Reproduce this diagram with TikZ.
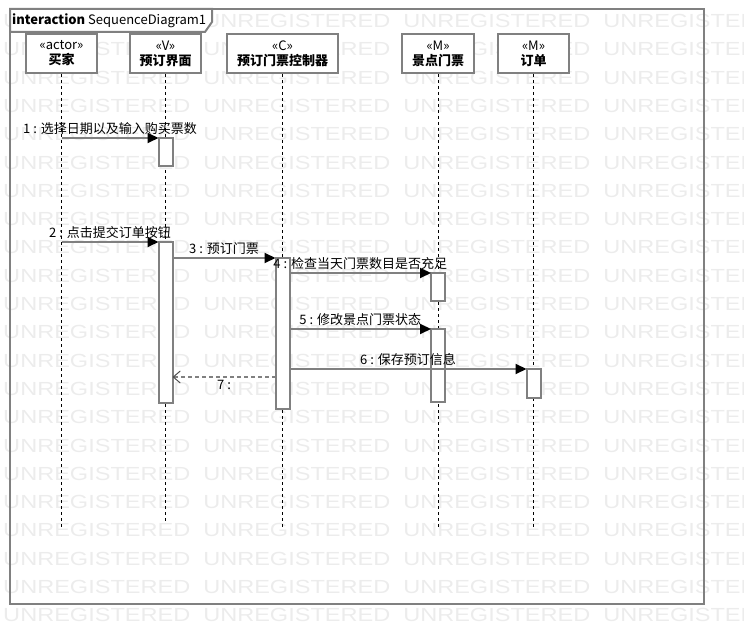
\documentclass[tikz,border=0pt]{standalone}
\usepackage{fontspec}
\setmainfont{Noto Sans CJK SC}
\newfontfamily\wmfont{Liberation Sans}
\usepackage{tikz}
\usetikzlibrary{arrows.meta, positioning}
\definecolor{lngray}{RGB}{128,128,128}
\definecolor{wmgray}{RGB}{236,236,236}

\begin{document}
\begin{tikzpicture}[
    x=1pt, y=-1pt,
    every node/.style={font=\fontsize{13}{15}\selectfont, align=center},
    wm/.style     ={font=\wmfont\fontsize{19}{19}\selectfont, text=wmgray,
                    anchor=west, inner sep=0pt, xscale=1.24},
    frame/.style  ={draw=lngray, line width=2pt},
    head/.style   ={draw=lngray, line width=2pt, fill=white, rectangle,
                    minimum height=39pt, inner sep=1pt},
    act/.style    ={draw=lngray, line width=2pt, fill=white, rectangle,
                    minimum width=14pt, inner sep=0pt, outer sep=0pt},
    life/.style   ={draw=black, line width=1pt, dash pattern=on 3pt off 3pt},
    arr/.style    ={draw=lngray, line width=2pt,
                    -{Triangle[length=11pt, width=10pt, black]}},
    ret/.style    ={draw=lngray, line width=2pt, dash pattern=on 4pt off 3pt,
                    -{Straight Barb[length=7pt, width=12pt, line width=1pt, black!70]}},
    mlabel/.style ={above=1pt, inner sep=1pt}
]
\useasboundingbox (0,0) rectangle (744,644);

\foreach \r in {0,...,21}
  \foreach \c in {0,...,3}
    \node[wm] (wm-\r-\c) at (3+200*\c, 21+28.3*\r) {UNREGISTERED};

\draw[frame] (10,9) rectangle (704,604);
\draw[frame, fill=white] (10,9) -- (212,9) -- (212,22) -- (205,32) -- (10,32) -- cycle;
\node[anchor=west, inner sep=0pt] (title) at (12,20.5) {\textbf{interaction} SequenceDiagram1};

\node[head, minimum width=71pt]  (buyer)  at (61.5,53.5)  {«actor»\\\textbf{买家}};
\node[head, minimum width=71pt]  (ui)     at (165.5,53.5) {«V»\\\textbf{预订界面}};
\node[head, minimum width=111pt] (ctrl)   at (282.5,53.5) {«C»\\\textbf{预订门票控制器}};
\node[head, minimum width=72pt]  (ticket) at (438,53.5)   {«M»\\\textbf{景点门票}};
\node[head, minimum width=71pt]  (order)  at (533.5,53.5) {«M»\\\textbf{订单}};

\draw[life] (buyer.south)  -- (buyer.south |- 0,527);
\draw[life] (ui.south)     -- (ui.south |- 0,522);
\draw[life] (ctrl.south)   -- (ctrl.south |- 0,527);
\draw[life] (ticket.south) -- (ticket.south |- 0,527);
\draw[life] (order.south)  -- (order.south |- 0,527);

\node[act, minimum height=28pt]  (act1) at (ui |- 0,152)      {};
\node[act, minimum height=161pt] (act2) at (ui |- 0,322.5)    {};
\node[act, minimum height=151pt] (act3) at (ctrl |- 0,333.5)  {};
\node[act, minimum height=28pt]  (act4) at (ticket |- 0,287)  {};
\node[act, minimum height=73pt]  (act5) at (ticket |- 0,365.5) {};
\node[act, minimum height=29pt]  (act6) at (order |- 0,383.5) {};
\coordinate (back) at (0,377);

\draw[arr] (buyer |- act1.north west) -- node[mlabel] {1 : 选择日期以及输入购买票数} (act1.north west);
\draw[arr] (buyer |- act2.north west) -- node[mlabel] {2 : 点击提交订单按钮} (act2.north west);
\draw[arr] (act2.east |- act3.north west) -- node[mlabel] {3 : 预订门票} (act3.north west);
\draw[arr] (act3.east |- act4.north west) -- node[mlabel] {4 : 检查当天门票数目是否充足} (act4.north west);
\draw[arr] (act3.east |- act5.north west) -- node[mlabel] {5 : 修改景点门票状态} (act5.north west);
\draw[arr] (act3.east |- act6.north west) -- node[mlabel] {6 : 保存预订信息} (act6.north west);
\draw[ret] (act3.west |- back) -- node[below=1pt, inner sep=1pt] {7 :} (act2.east |- back);
\end{tikzpicture}
\end{document}
